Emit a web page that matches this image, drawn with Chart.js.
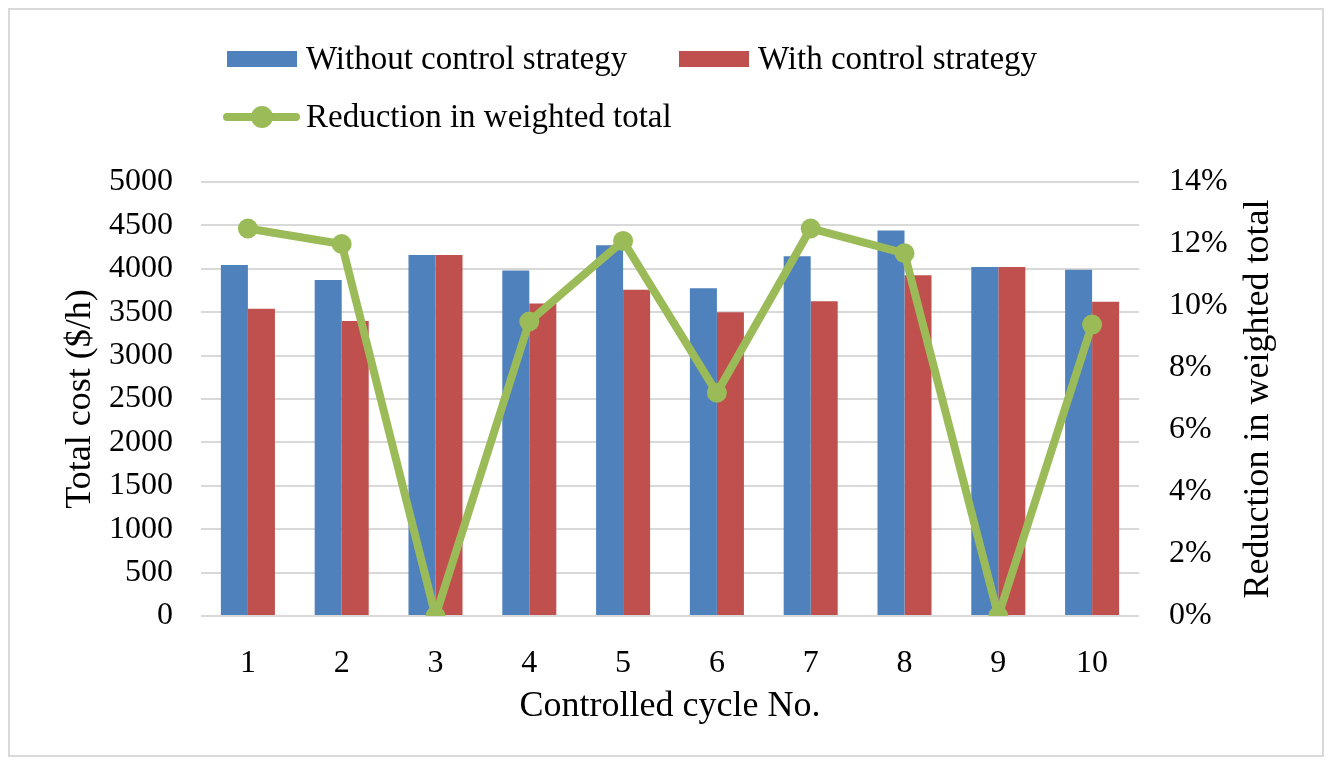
<!DOCTYPE html>
<html>
<head>
<meta charset="utf-8">
<script src="https://cdn.jsdelivr.net/npm/chart.js@4.4.0/dist/chart.umd.min.js"></script>
<style>
    html, body { margin: 0; padding: 0; background: #fff; }
    #wrap { position: relative; width: 1329px; height: 765px; }
    #frame {
        position: absolute; left: 8px; top: 8px; width: 1312px; height: 745px;
        border: 2px solid #d9d9d9; box-sizing: content-box;
    }
    #chart { position: absolute; left: 0; top: 0; }
    .legend-item {
        position: absolute; display: flex; align-items: center;
        font-family: "Liberation Serif", "Times New Roman", serif; font-size: 33px; color: #000;
        white-space: nowrap;
    }
    .swatch { width: 70px; height: 16px; margin-right: 9px; }
    .linemark { position: relative; width: 77px; height: 22px; margin-right: 6px; }
    .linemark .bar { position: absolute; left: 0; right: 0; top: 7px; height: 8px; background: #9bbb59; border-radius: 4px; }
    .linemark .dot { position: absolute; left: 28px; top: 0; width: 22px; height: 22px; border-radius: 50%; background: #9bbb59; }
</style>
</head>
<body>
<div id="wrap">
    <div id="frame"></div>
    <canvas id="chart" width="1329" height="765"></canvas>
    <div class="legend-item" style="left:227px; top:40px;"><div class="swatch" style="background:#4f81bd"></div>Without control strategy</div>
    <div class="legend-item" style="left:679px; top:40px;"><div class="swatch" style="background:#c0504d"></div>With control strategy</div>
    <div class="legend-item" style="left:223px; top:98px;"><div class="linemark"><div class="bar"></div><div class="dot"></div></div>Reduction in weighted total</div>
</div>
<script>
// cycle numbers
const cycles = ['1', '2', '3', '4', '5', '6', '7', '8', '9', '10'];
// total cost ($/h)
const withoutControl = [4045, 3870, 4160, 3980, 4270, 3775, 4145, 4440, 4020, 3990];
const withControl = [3540, 3400, 4160, 3600, 3760, 3500, 3625, 3925, 4020, 3620];
// reduction in weighted total (%)
const reduction = [12.5, 12.0, 0, 9.5, 12.1, 7.2, 12.5, 11.7, 0, 9.4];

const serif = '"Liberation Serif", "Times New Roman", serif';
const rightTitle = 'Reduction in weighted total';

// right axis title reads bottom-to-top like the left one, so draw it here
const rightTitlePlugin = {
    id: 'rightTitle',
    afterDraw: function(chart) {
        const ctx = chart.ctx;
        const area = chart.chartArea;
        ctx.save();
        ctx.translate(1259, (area.top + area.bottom) / 2);
        ctx.rotate(-Math.PI / 2);
        ctx.font = '36px ' + serif;
        ctx.fillStyle = '#000';
        ctx.textAlign = 'center';
        ctx.textBaseline = 'middle';
        ctx.fillText(rightTitle, 0, 0);
        ctx.restore();
    }
};

document.addEventListener('DOMContentLoaded', function() {
    const ctx = document.getElementById('chart').getContext('2d');

    new Chart(ctx, {
        type: 'bar',
        data: {
            labels: cycles,
            datasets: [
                {
                    type: 'line',
                    label: rightTitle,
                    data: reduction,
                    yAxisID: 'y1',
                    borderColor: '#9bbb59',
                    backgroundColor: '#9bbb59',
                    borderWidth: 8,
                    pointRadius: 10,
                    pointHoverRadius: 10,
                    pointBorderWidth: 0,
                    tension: 0,
                    order: 0
                },
                {
                    label: 'Without control strategy',
                    data: withoutControl,
                    yAxisID: 'y',
                    backgroundColor: '#4f81bd',
                    barPercentage: 1,
                    categoryPercentage: 0.576,
                    order: 1
                },
                {
                    label: 'With control strategy',
                    data: withControl,
                    yAxisID: 'y',
                    backgroundColor: '#c0504d',
                    barPercentage: 1,
                    categoryPercentage: 0.576,
                    order: 1
                }
            ]
        },
        options: {
            responsive: false,
            animation: false,
            layout: {
                padding: { left: 55, right: 49, top: 182, bottom: 37 }
            },
            scales: {
                x: {
                    grid: { display: false },
                    border: { display: false },
                    ticks: {
                        color: '#000',
                        font: { family: serif, size: 32 },
                        padding: 20
                    },
                    title: {
                        display: true,
                        text: 'Controlled cycle No.',
                        color: '#000',
                        font: { family: serif, size: 36 },
                        padding: { top: 0, bottom: 0 }
                    },
                    afterFit: function(scale) { scale.height = 112; }
                },
                y: {
                    position: 'left',
                    min: 0,
                    max: 5000,
                    ticks: {
                        stepSize: 500,
                        color: '#000',
                        font: { family: serif, size: 32 },
                        padding: 28,
                        callback: function(v) { return String(v); }
                    },
                    grid: { color: '#d9d9d9', lineWidth: 2, drawTicks: false },
                    border: { display: false },
                    title: {
                        display: true,
                        text: 'Total cost ($/h)',
                        color: '#000',
                        font: { family: serif, size: 36 },
                        padding: { top: 4, bottom: 0 }
                    },
                    afterFit: function(scale) { scale.width = 146; }
                },
                y1: {
                    position: 'right',
                    min: 0,
                    max: 14,
                    ticks: {
                        stepSize: 2,
                        color: '#000',
                        font: { family: serif, size: 32 },
                        padding: 30,
                        callback: function(v) { return v + '%'; }
                    },
                    grid: { display: false, drawTicks: false },
                    border: { display: false },
                    title: { display: false },
                    afterFit: function(scale) { scale.width = 141; }
                }
            },
            plugins: {
                legend: { display: false },
                tooltip: { enabled: false }
            }
        },
        plugins: [rightTitlePlugin]
    });
});
</script>
</body>
</html>
